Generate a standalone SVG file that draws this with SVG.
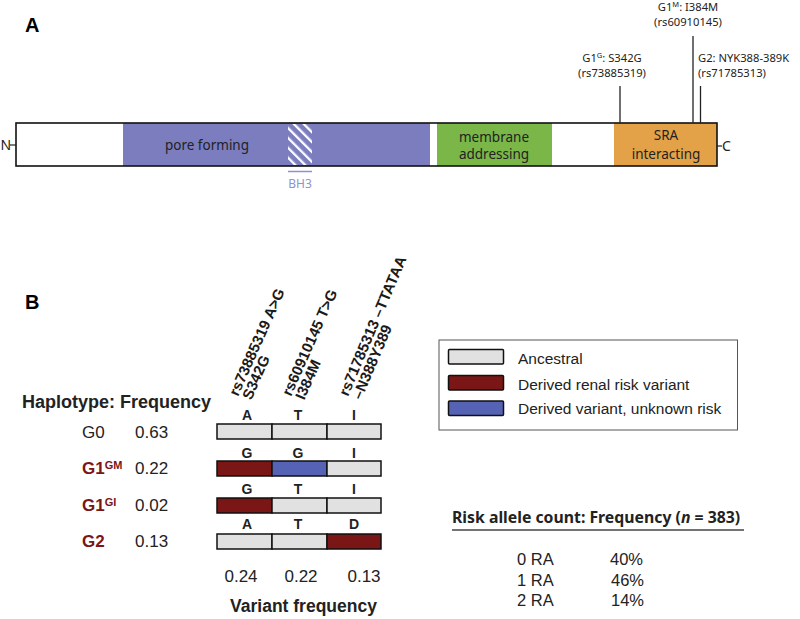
<svg xmlns="http://www.w3.org/2000/svg" width="800" height="619" viewBox="0 0 800 619">
<style>
.cal{font-family:"Noto Sans","Open Sans",sans-serif;fill:#222}
.ar{font-family:"Liberation Sans",Arial,sans-serif;fill:#222}
.b{font-weight:bold}
.panel{font-family:"Liberation Sans",Arial,sans-serif;font-weight:bold;font-size:20px;fill:#000}
.seg{stroke:#111;stroke-width:1.5}
.anc{fill:#e1e1e1}
.red{fill:#7a1616}
.blu{fill:#5662b4}
.dr{fill:#7a1616}
.tick{stroke:#222;stroke-width:1.3}
.rot{font-family:"Liberation Sans",Arial,sans-serif;font-weight:bold;font-size:15px;fill:#1a1a1a}
</style>
<defs>
<pattern id="hatch" patternUnits="userSpaceOnUse" width="7" height="7" patternTransform="rotate(-45)">
<rect width="7" height="7" fill="#7b7dbf"/>
<rect x="0" y="0" width="2.3" height="7" fill="#fff"/>
</pattern>
</defs>
<rect width="800" height="619" fill="#fff"/>

<text class="panel" x="25" y="32">A</text>
<text class="panel" x="25" y="309">B</text>

<g id="protein">
<rect x="123" y="123" width="307" height="43" fill="#7b7dbf"/>
<rect x="288" y="124" width="24" height="41" fill="url(#hatch)"/>
<rect x="437" y="123" width="115" height="43" fill="#7ab648"/>
<rect x="614" y="123" width="103" height="43" fill="#e3a247"/>
<rect x="16" y="123" width="701" height="43" fill="none" stroke="#111" stroke-width="1.6"/>
<line x1="10" y1="145" x2="16" y2="145" stroke="#222" stroke-width="1.2"/>
<line x1="717" y1="146" x2="722" y2="146" stroke="#222" stroke-width="1.2"/>
<text class="cal" x="0.5" y="149.5" font-size="14">N</text>
<text class="cal" x="722" y="151" font-size="14">C</text>
<text class="cal" x="207" y="150" font-size="13.5" text-anchor="middle">pore forming</text>
<text class="cal" x="494" y="141.5" font-size="13.5" text-anchor="middle">membrane</text>
<text class="cal" x="494" y="158.5" font-size="13.5" text-anchor="middle">addressing</text>
<text class="cal" x="666" y="140" font-size="13.5" text-anchor="middle">SRA</text>
<text class="cal" x="666" y="158.5" font-size="13.5" text-anchor="middle">interacting</text>
<line x1="288" y1="171.5" x2="312" y2="171.5" stroke="#8f92cf" stroke-width="1.5"/>
<text class="cal" x="300" y="188" font-size="12" text-anchor="middle" style="fill:#8f92cf">BH3</text>
</g>

<g id="variant-marks">
<line class="tick" x1="620" y1="86" x2="620" y2="123"/>
<line class="tick" x1="693" y1="36" x2="693" y2="123"/>
<line class="tick" x1="700.5" y1="86" x2="700.5" y2="123"/>
<text class="cal" x="612" y="62" font-size="11.2" text-anchor="middle">G1<tspan font-size="7.5" dy="-4">G</tspan><tspan dy="4">: S342G</tspan></text>
<text class="cal" x="612" y="76.5" font-size="11.2" text-anchor="middle">(rs73885319)</text>
<text class="cal" x="688" y="11" font-size="11.2" text-anchor="middle">G1<tspan font-size="7.5" dy="-4">M</tspan><tspan dy="4">: I384M</tspan></text>
<text class="cal" x="688" y="25.5" font-size="11.2" text-anchor="middle">(rs60910145)</text>
<text class="cal" x="698" y="62" font-size="11.2">G2: NYK388-389K</text>
<text class="cal" x="698" y="76.5" font-size="11.2">(rs71785313)</text>
</g>

<g id="snp-headers">
<text class="rot" transform="translate(238,397) rotate(-66)"><tspan x="0" y="0">rs73885319 A&gt;G</tspan><tspan x="2" y="13.5">S342G</tspan></text>
<text class="rot" transform="translate(291,397) rotate(-66)"><tspan x="0" y="0">rs60910145 T&gt;G</tspan><tspan x="2" y="13.5">I384M</tspan></text>
<text class="rot" transform="translate(348,397) rotate(-67)"><tspan x="0" y="0">rs71785313 –TTATAA</tspan><tspan x="2" y="13.5">–N388Y389</tspan></text>
</g>

<g id="haplotype-labels">
<text class="ar b" x="22" y="408" font-size="18">Haplotype: Frequency</text>
<text class="ar" x="82" y="438" font-size="17">G0</text>
<text class="ar" x="135" y="438" font-size="17">0.63</text>
<text class="ar b dr" x="82" y="474" font-size="17">G1<tspan font-size="11" dy="-5">GM</tspan></text>
<text class="ar" x="135" y="474" font-size="17">0.22</text>
<text class="ar b dr" x="82" y="511" font-size="17">G1<tspan font-size="11" dy="-5">GI</tspan></text>
<text class="ar" x="135" y="511" font-size="17">0.02</text>
<text class="ar b dr" x="82" y="547" font-size="17">G2</text>
<text class="ar" x="135" y="547" font-size="17">0.13</text>
</g>

<g id="haplotype-bars">
<rect class="seg anc" x="217" y="424" width="55" height="15"/>
<rect class="seg anc" x="272" y="424" width="55" height="15"/>
<rect class="seg anc" x="327" y="424" width="54" height="15"/>
<rect class="seg red" x="217" y="461" width="55" height="15"/>
<rect class="seg blu" x="272" y="461" width="55" height="15"/>
<rect class="seg anc" x="327" y="461" width="54" height="15"/>
<rect class="seg red" x="217" y="498" width="55" height="15"/>
<rect class="seg anc" x="272" y="498" width="55" height="15"/>
<rect class="seg anc" x="327" y="498" width="54" height="15"/>
<rect class="seg anc" x="217" y="534" width="55" height="15"/>
<rect class="seg anc" x="272" y="534" width="55" height="15"/>
<rect class="seg red" x="327" y="534" width="54" height="15"/>
<g class="ar b" font-size="14" text-anchor="middle">
<text x="247" y="420">A</text><text x="298" y="420">T</text><text x="354" y="420">I</text>
<text x="247" y="458">G</text><text x="298" y="458">G</text><text x="354" y="458">I</text>
<text x="247" y="494">G</text><text x="298" y="494">T</text><text x="354" y="494">I</text>
<text x="247" y="529">A</text><text x="298" y="529">T</text><text x="354" y="529">D</text>
</g>
</g>

<g id="variant-frequency">
<text class="ar" x="241" y="582" font-size="17" text-anchor="middle">0.24</text>
<text class="ar" x="301" y="582" font-size="17" text-anchor="middle">0.22</text>
<text class="ar" x="364" y="582" font-size="17" text-anchor="middle">0.13</text>
<text class="ar b" x="303.5" y="612" font-size="17.5" text-anchor="middle">Variant frequency</text>
</g>

<g id="legend">
<rect x="439" y="340" width="298.5" height="90" fill="#fff" stroke="#555" stroke-width="1"/>
<rect class="seg anc" x="448.5" y="349.5" width="55" height="14.5" rx="1"/>
<rect class="seg red" x="448.5" y="375.5" width="55" height="14.5" rx="1"/>
<rect class="seg blu" x="448.5" y="401" width="55" height="14.5" rx="1"/>
<text class="ar" x="518" y="364" font-size="15.5">Ancestral</text>
<text class="ar" x="518" y="390" font-size="15.5">Derived renal risk variant</text>
<text class="ar" x="518" y="413.5" font-size="15.5">Derived variant, unknown risk</text>
</g>

<g id="risk-table">
<text class="cal b" x="452" y="523" font-size="15.8">Risk allele count: Frequency (<tspan font-style="italic">n</tspan> = 383)</text>
<line x1="452" y1="530" x2="744" y2="530" stroke="#444" stroke-width="1.5"/>
<g class="ar" font-size="16.5">
<text x="517" y="565">0 RA</text><text x="610" y="565">40%</text>
<text x="517" y="586">1 RA</text><text x="611" y="586">46%</text>
<text x="517" y="606">2 RA</text><text x="611" y="606">14%</text>
</g>
</g>
</svg>
